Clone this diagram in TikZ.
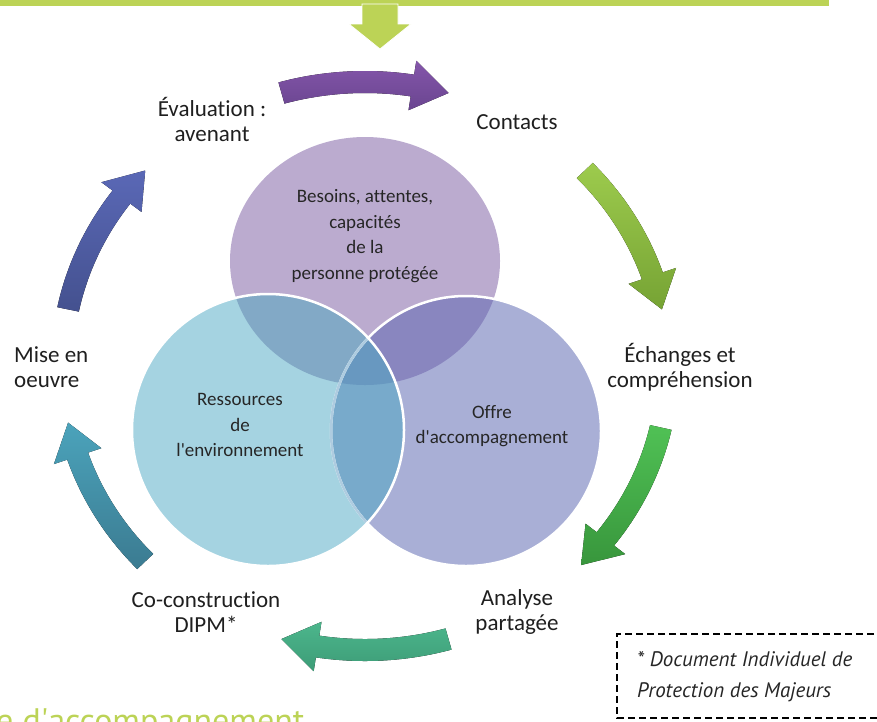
\documentclass[tikz,border=0pt]{standalone}
\usepackage{fontspec}
\setmainfont{Carlito}[Ligatures={NoCommon}]
\newfontfamily\dinfont{PT Sans}
\usepackage{tikz}

\definecolor{barclr}{HTML}{BCD356}
\definecolor{topclr}{HTML}{BBABCF}
\definecolor{leftclr}{HTML}{A5D3E1}
\definecolor{rightclr}{HTML}{A9AFD6}
\definecolor{tlclr}{HTML}{82A9C6}
\definecolor{trclr}{HTML}{8986BF}
\definecolor{lrclr}{HTML}{78AACB}
\definecolor{midclr}{HTML}{6898C0}
\definecolor{arrA}{HTML}{8456AA}\definecolor{arrAd}{HTML}{6A4590}
\definecolor{arrB}{HTML}{9DCB4D}\definecolor{arrBd}{HTML}{76A334}
\definecolor{arrC}{HTML}{50C155}\definecolor{arrCd}{HTML}{38963C}
\definecolor{arrD}{HTML}{4CB68C}\definecolor{arrDd}{HTML}{3D9C77}
\definecolor{arrE}{HTML}{4BA3BB}\definecolor{arrEd}{HTML}{3B7B91}
\definecolor{arrF}{HTML}{5A68B6}\definecolor{arrFd}{HTML}{44518F}

\tikzset{
  lbl/.style={align=center, font=\fontsize{23}{25}\selectfont, text=black!88, inner sep=0pt},
  vennlbl/.style={align=center, font=\fontsize{19}{25.5}\selectfont, text=black!85, inner sep=0pt},
  note/.style={font=\dinfont\itshape\fontsize{21}{24}\selectfont, text=black!85, inner sep=0pt, anchor=base west}
}

% curved block arrow, #1 = middle angle, clockwise
\newcommand{\cyclearrow}[3]{%
  \fill [top color=#2, bottom color=#3]
    ({#1+16}:292 and 273) arc [start angle={#1+16}, end angle={#1-9}, x radius=292, y radius=273]
    -- ({#1-9}:278 and 259) -- ({#1-16}:303 and 284) -- ({#1-9}:328 and 309)
    -- ({#1-9}:314 and 295) arc [start angle={#1-9}, end angle={#1+16}, x radius=314, y radius=295]
    -- cycle;}

\def\toppath{(365,-261) ellipse [x radius=135, y radius=124]}
\def\leftpath{(268,-430) circle [radius=136]}
\def\rightpath{(466,-431) circle [radius=135]}

\begin{document}
\begin{tikzpicture}[x=1pt, y=1pt]
  \useasboundingbox (0,0) rectangle (877,-721);
  \clip (0,0) rectangle (877,-721);

  % bar and arrow at the top
  \fill [barclr] (0,0) rectangle (829,-6);
  \fill [barclr, draw=white, line width=0.8pt] (362,-4) -- (398,-4) -- (398,-24) -- (411,-24)
    -- (380,-49) -- (349,-24) -- (362,-24) -- cycle;

  % the three sets
  \fill [topclr] \toppath;
  \fill [leftclr] \leftpath;
  \fill [rightclr] \rightpath;
  \begin{scope}
    \clip \toppath;
    \fill [tlclr] \leftpath;
    \fill [trclr] \rightpath;
  \end{scope}
  \begin{scope}
    \clip \leftpath;
    \fill [lrclr] \rightpath;
    \clip \toppath;
    \fill [midclr] \rightpath;
  \end{scope}
  \draw [white, line width=2.5pt] \rightpath;
  \begin{scope}
    \clip \leftpath;
    \draw [lrclr!60!white, line width=2.5pt] \rightpath;
  \end{scope}
  \draw [white, line width=2.5pt] \leftpath;

  \node [vennlbl] (besoins) at (365,-236) {Besoins, attentes,\\capacités\\de la\\personne protégée};
  \node [vennlbl] (ressources) at (240,-425) {Ressources\\de\\l\textquotesingle environnement};
  \node [vennlbl] (offre) at (492,-426) {Offre\\d\textquotesingle accompagnement};

  % arrows of the cycle
  \begin{scope}[shift={(365,-366)}]
    \cyclearrow{90}{arrA}{arrAd}
    \cyclearrow{27.5}{arrB}{arrBd}
    \cyclearrow{-28.5}{arrC}{arrCd}
    \cyclearrow{-90}{arrD}{arrDd}
    \cyclearrow{-152.5}{arrE}{arrEd}
    \cyclearrow{152.5}{arrF}{arrFd}
  \end{scope}

  \node [lbl] (contacts) at (517,-122) {Contacts};
  \node [lbl] (echanges) at (680,-367) {Échanges et\\compréhension};
  \node [lbl] (analyse) at (517,-612) {Analyse\\partagée};
  \node [lbl] (coconstr) at (206,-612) {Co-construction\\DIPM*};
  \node [lbl, align=left, anchor=west] (miseoeuvre) at (14,-367) {Mise en\\oeuvre};
  \node [lbl] (evaluation) at (212,-119) {Évaluation :\\avenant};

  % footnote
  \draw [dashed, line width=1.3pt, dash pattern=on 7pt off 4pt] (885,-634) -- (617,-634) -- (617,-718) -- (885,-718);
  \node [note] (noteA) at (637,-666) {* Document Individuel de};
  \node [note] (noteB) at (637,-697) {Protection des Majeurs};

  \node [font=\dinfont\fontsize{34}{34}\selectfont, text=barclr, anchor=base west, inner sep=0pt] (titre) at (-4,-732) {e d\textquotesingle accompagnement};
\end{tikzpicture}
\end{document}
